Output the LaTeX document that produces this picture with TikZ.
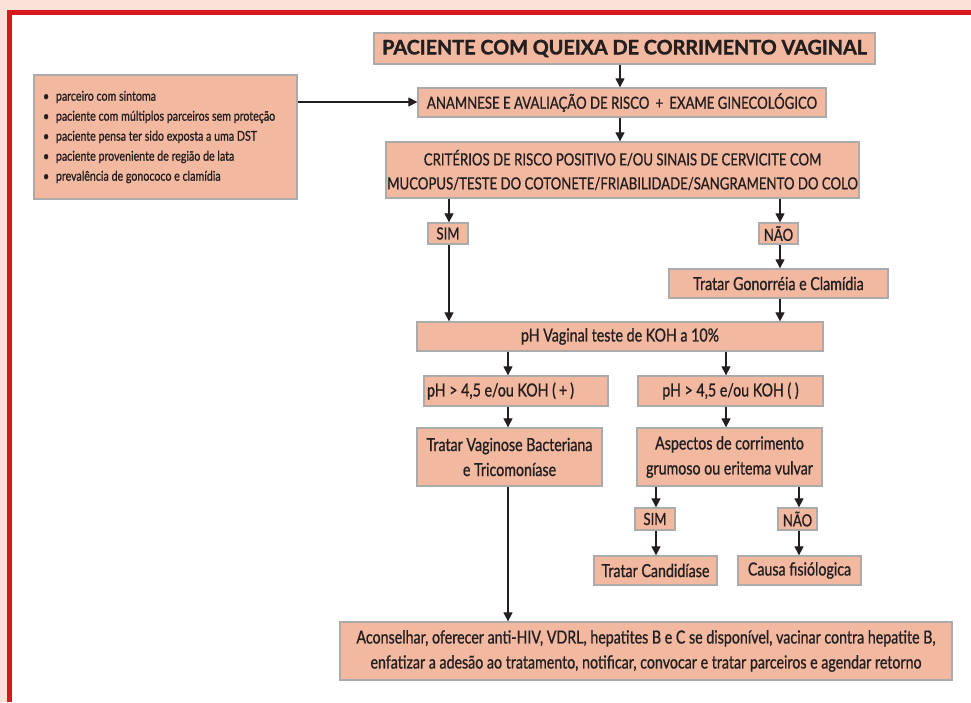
\documentclass[tikz,border=0pt]{standalone}
\usepackage{fontspec}
\setmainfont{Lato}[FakeStretch=0.79, FakeBold=0.9]
\newfontfamily\titlefont{Lato}[FakeStretch=0.99, BoldFeatures={FakeBold=1.6}]
\usetikzlibrary{arrows.meta,calc}
\definecolor{salmon}{HTML}{F2B8A0}
\definecolor{edgegray}{HTML}{ABABAB}
\definecolor{framered}{HTML}{D7191F}
\definecolor{bgpink}{HTML}{F9E3D9}
\definecolor{ink}{HTML}{231F20}
\tikzset{
  fbox/.style={draw=edgegray, fill=salmon, line width=1.3pt, inner sep=0pt,
    align=center, text=ink, font=\fontsize{16.7}{24}\selectfont},
  mixbox/.style={fbox, font=\fontsize{18}{25}\selectfont},
  arr/.style={draw=ink, line width=1.1pt, -{Triangle[length=9pt,width=9pt]}},
}
\begin{document}
\begin{tikzpicture}[x=1pt,y=-1pt]
\useasboundingbox (0,0) rectangle (971,702);
\fill[bgpink] (0,0) rectangle (971,702);
\fill[white] (12,15) rectangle (971,702);
\fill[framered] (7,10) rectangle (971,15);
\fill[framered] (7,10) rectangle (12,702);

\node[fbox, font=\titlefont\fontsize{20}{24}\bfseries\selectfont, minimum width=501pt, minimum height=31pt] (title) at (624.5,48.5) {PACIENTE COM QUEIXA DE CORRIMENTO VAGINAL};
\node[fbox, minimum width=408pt, minimum height=29pt] (anam) at (622,102.5) {ANAMNESE E AVALIAÇÃO DE RISCO \,+\, EXAME GINECOLÓGICO};
\node[fbox, minimum width=473pt, minimum height=56pt] (crit) at (622.5,170) {CRITÉRIOS DE RISCO POSITIVO E/OU SINAIS DE CERVICITE COM\\MUCOPUS/TESTE DO COTONETE/FRIABILIDADE/SANGRAMENTO DO COLO};
\node[fbox, font=\fontsize{13.5}{20}\selectfont, align=flush left, text width=245pt, inner xsep=9pt, minimum height=124pt] (list) at (165.5,137) {•\enspace parceiro com sintoma\\•\enspace paciente com múltiplos parceiros sem \mbox{proteção}\\•\enspace paciente pensa ter sido exposta a uma DST\\•\enspace paciente proveniente de região de lata\\•\enspace prevalência de gonococo e clamídia};
\node[fbox, minimum width=40pt, minimum height=21pt] (sima) at (448,233.5) {SIM};
\node[fbox, minimum width=39pt, minimum height=21pt] (naoa) at (778.5,233.5) {NÃO};
\node[mixbox, minimum width=219pt, minimum height=29pt] (gon) at (778.5,283.5) {Tratar Gonorréia e Clamídia};
\node[mixbox, minimum width=406pt, minimum height=29pt] (phv) at (620,336.5) {pH Vaginal teste de KOH a 10\%};
\node[mixbox, align=flush left, text width=178pt, inner xsep=3pt, minimum height=30pt] (php) at (516,391) {pH > 4,5 e/ou KOH (\,+\,)};
\node[mixbox, minimum width=185pt, minimum height=30pt] (phm) at (730.5,391) {pH > 4,5 e/ou KOH ( )};
\node[mixbox, minimum width=185pt, minimum height=58pt] (vag) at (509.5,457) {Tratar Vaginose Bacteriana\\e Tricomoníase};
\node[mixbox, minimum width=185pt, minimum height=58pt] (asp) at (729.5,457) {Aspectos de corrimento\\grumoso ou eritema vulvar};
\node[fbox, minimum width=40pt, minimum height=22pt] (simb) at (655,519) {SIM};
\node[fbox, minimum width=39pt, minimum height=22pt] (naob) at (797.5,519) {NÃO};
\node[mixbox, minimum width=123pt, minimum height=29pt] (cand) at (655.5,570.5) {Tratar Candidíase};
\node[mixbox, minimum width=123pt, minimum height=29pt] (causa) at (799.5,570.5) {Causa fisiólogica};
\node[mixbox, minimum width=612pt, minimum height=58pt] (final) at (646,651) {Aconselhar, oferecer anti-HIV, VDRL, hepatites B e C se disponível, vacinar contra hepatite B,\\enfatizar a adesão ao tratamento, notificar, convocar e tratar parceiros e agendar retorno};

\coordinate (xa) at (620,0);
\coordinate (xb) at (449,0);
\coordinate (xc) at (780,0);
\coordinate (xd) at (508,0);
\coordinate (xe) at (726,0);
\coordinate (xf) at (656,0);
\coordinate (xg) at (799,0);
\coordinate (ya) at (0,102);

\draw[arr] (title.south -| xa) -- (anam.north -| xa);
\draw[arr] (anam.south -| xa) -- (crit.north -| xa);
\draw[arr] (list.east |- ya) -- (anam.west |- ya);
\draw[arr] (crit.south -| xb) -- (sima.north -| xb);
\draw[arr] (crit.south -| xc) -- (naoa.north -| xc);
\draw[arr] (naoa.south -| xc) -- (gon.north -| xc);
\draw[arr] (sima.south -| xb) -- (phv.north -| xb);
\draw[arr] (gon.south -| xc) -- (phv.north -| xc);
\draw[arr] (phv.south -| xd) -- (php.north -| xd);
\draw[arr] (phv.south -| xe) -- (phm.north -| xe);
\draw[arr] (php.south -| xd) -- (vag.north -| xd);
\draw[arr] (phm.south -| xe) -- (asp.north -| xe);
\draw[arr] (asp.south -| xf) -- (simb.north -| xf);
\draw[arr] (asp.south -| xg) -- (naob.north -| xg);
\draw[arr] (simb.south -| xf) -- (cand.north -| xf);
\draw[arr] (naob.south -| xg) -- (causa.north -| xg);
\draw[arr] (vag.south -| xd) -- (final.north -| xd);
\end{tikzpicture}
\end{document}
